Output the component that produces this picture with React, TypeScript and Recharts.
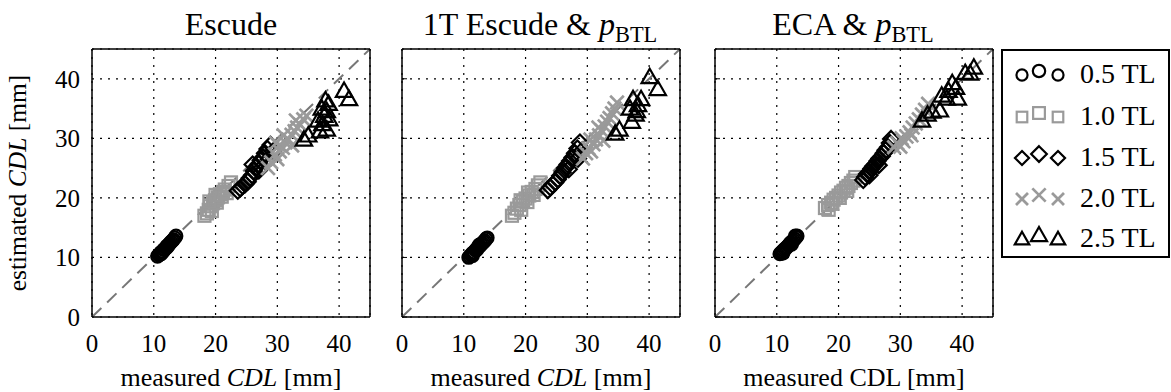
import React from 'react';
import { ScatterChart, Scatter, XAxis, YAxis, CartesianGrid, ReferenceLine } from 'recharts';

const FONT = "'Liberation Serif', 'Times New Roman', serif";
const GRAY = '#9a9a9a';

const axisTicks = [0, 10, 20, 30, 40];
const legendLabels = ['0.5 TL', '1.0 TL', '1.5 TL', '2.0 TL', '2.5 TL'];

// Escude
const escudeCircles = [
  { x: 10.6, y: 10.2 }, { x: 10.8, y: 10.4 }, { x: 11.0, y: 10.5 }, { x: 11.1, y: 10.8 }, { x: 11.3, y: 10.9 },
  { x: 11.5, y: 11.0 }, { x: 11.6, y: 11.3 }, { x: 11.8, y: 11.4 }, { x: 12.0, y: 11.6 }, { x: 12.1, y: 11.9 },
  { x: 12.3, y: 12.0 }, { x: 12.5, y: 12.2 }, { x: 12.6, y: 12.4 }, { x: 12.8, y: 12.6 }, { x: 13.0, y: 12.8 },
  { x: 13.2, y: 13.0 }, { x: 13.4, y: 13.3 }, { x: 13.6, y: 13.6 }, { x: 11.2, y: 10.6 }, { x: 12.2, y: 11.8 },
];
const escudeSquares = [
  { x: 18.2, y: 17.0 }, { x: 18.6, y: 17.4 }, { x: 18.9, y: 18.0 }, { x: 19.1, y: 18.6 }, { x: 19.4, y: 17.8 },
  { x: 19.6, y: 19.1 }, { x: 19.9, y: 19.6 }, { x: 20.2, y: 19.2 }, { x: 20.4, y: 20.1 }, { x: 20.7, y: 20.6 },
  { x: 21.0, y: 20.2 }, { x: 21.2, y: 21.0 }, { x: 21.5, y: 21.4 }, { x: 21.8, y: 20.8 }, { x: 22.1, y: 22.0 },
  { x: 22.5, y: 22.6 }, { x: 19.0, y: 19.4 }, { x: 20.0, y: 20.5 },
];
const escudeDiamonds = [
  { x: 23.6, y: 21.2 }, { x: 24.0, y: 21.6 }, { x: 24.4, y: 22.0 }, { x: 24.8, y: 22.3 }, { x: 25.2, y: 22.7 },
  { x: 25.5, y: 23.3 }, { x: 25.9, y: 23.8 }, { x: 26.2, y: 24.5 }, { x: 26.6, y: 25.2 }, { x: 27.0, y: 25.7 },
  { x: 27.3, y: 26.3 }, { x: 27.7, y: 26.8 }, { x: 28.0, y: 27.5 }, { x: 28.4, y: 28.2 }, { x: 28.9, y: 28.9 },
  { x: 29.3, y: 27.8 }, { x: 28.6, y: 26.5 }, { x: 27.0, y: 24.6 }, { x: 26.0, y: 25.6 },
];
const escudeCrosses = [
  { x: 28.5, y: 25.0 }, { x: 29.0, y: 26.0 }, { x: 29.6, y: 27.3 }, { x: 30.0, y: 26.5 }, { x: 30.4, y: 27.8 },
  { x: 30.9, y: 28.4 }, { x: 31.3, y: 29.3 }, { x: 31.8, y: 29.8 }, { x: 32.3, y: 30.6 }, { x: 32.8, y: 31.2 },
  { x: 33.2, y: 31.8 }, { x: 33.7, y: 32.3 }, { x: 34.2, y: 33.2 }, { x: 34.7, y: 33.8 }, { x: 29.8, y: 29.2 },
  { x: 31.0, y: 30.5 }, { x: 32.4, y: 28.8 }, { x: 33.0, y: 33.0 }, { x: 30.3, y: 28.8 },
];
const escudeTriangles = [
  { x: 34.3, y: 29.8 }, { x: 35.0, y: 30.5 }, { x: 36.9, y: 31.2 }, { x: 37.3, y: 32.4 }, { x: 36.6, y: 33.0 },
  { x: 37.6, y: 33.8 }, { x: 38.0, y: 34.6 }, { x: 38.4, y: 33.2 }, { x: 37.2, y: 35.0 }, { x: 38.3, y: 35.8 },
  { x: 37.8, y: 36.4 }, { x: 40.8, y: 38.0 }, { x: 41.6, y: 36.6 }, { x: 38.0, y: 31.5 },
];

// 1T Escude & pBTL
const oneTCircles = [
  { x: 10.8, y: 10.0 }, { x: 11.0, y: 10.2 }, { x: 11.2, y: 10.4 }, { x: 11.3, y: 10.6 }, { x: 11.5, y: 10.8 },
  { x: 11.7, y: 10.9 }, { x: 11.9, y: 11.2 }, { x: 12.1, y: 11.3 }, { x: 12.2, y: 11.6 }, { x: 12.4, y: 11.8 },
  { x: 12.6, y: 11.9 }, { x: 12.8, y: 12.2 }, { x: 13.0, y: 12.4 }, { x: 13.2, y: 12.6 }, { x: 13.4, y: 12.8 },
  { x: 13.6, y: 13.1 }, { x: 13.8, y: 13.3 }, { x: 11.4, y: 10.3 }, { x: 12.5, y: 12.1 },
];
const oneTSquares = [
  { x: 17.8, y: 17.0 }, { x: 18.2, y: 17.5 }, { x: 18.6, y: 18.2 }, { x: 19.0, y: 18.8 }, { x: 19.3, y: 18.0 },
  { x: 19.6, y: 19.4 }, { x: 20.0, y: 19.9 }, { x: 20.3, y: 19.3 }, { x: 20.6, y: 20.4 }, { x: 21.0, y: 21.0 },
  { x: 21.3, y: 20.5 }, { x: 21.6, y: 21.5 }, { x: 22.0, y: 22.1 }, { x: 22.4, y: 22.6 }, { x: 19.2, y: 19.6 },
  { x: 20.4, y: 20.9 },
];
const oneTDiamonds = [
  { x: 23.6, y: 21.3 }, { x: 24.0, y: 21.8 }, { x: 24.4, y: 22.2 }, { x: 24.8, y: 22.6 }, { x: 25.2, y: 23.1 },
  { x: 25.6, y: 23.7 }, { x: 26.0, y: 24.3 }, { x: 26.4, y: 25.0 }, { x: 26.8, y: 25.6 }, { x: 27.2, y: 26.2 },
  { x: 27.6, y: 26.8 }, { x: 28.0, y: 27.5 }, { x: 28.4, y: 28.3 }, { x: 28.8, y: 29.3 }, { x: 29.2, y: 28.0 },
  { x: 28.5, y: 26.6 }, { x: 27.0, y: 24.8 },
];
const oneTCrosses = [
  { x: 29.3, y: 26.6 }, { x: 29.8, y: 27.5 }, { x: 30.2, y: 28.3 }, { x: 30.6, y: 27.8 }, { x: 31.0, y: 29.0 },
  { x: 31.4, y: 29.8 }, { x: 31.9, y: 30.5 }, { x: 32.3, y: 31.3 }, { x: 32.8, y: 32.0 }, { x: 33.2, y: 32.8 },
  { x: 33.6, y: 33.4 }, { x: 34.0, y: 34.2 }, { x: 34.4, y: 35.0 }, { x: 34.8, y: 36.0 }, { x: 30.5, y: 29.8 },
  { x: 31.8, y: 31.8 }, { x: 32.6, y: 29.6 },
];
const oneTTriangles = [
  { x: 34.5, y: 30.8 }, { x: 35.2, y: 31.5 }, { x: 37.2, y: 32.8 }, { x: 36.9, y: 35.0 }, { x: 38.0, y: 34.6 },
  { x: 37.4, y: 36.6 }, { x: 38.7, y: 36.6 }, { x: 38.2, y: 35.6 }, { x: 37.8, y: 34.0 }, { x: 40.1, y: 40.3 },
  { x: 41.4, y: 38.3 },
];

// ECA & pBTL
const ecaCircles = [
  { x: 10.5, y: 10.6 }, { x: 10.7, y: 10.8 }, { x: 10.9, y: 11.0 }, { x: 11.1, y: 11.2 }, { x: 11.3, y: 11.4 },
  { x: 11.5, y: 11.6 }, { x: 11.7, y: 11.8 }, { x: 11.9, y: 12.0 }, { x: 12.1, y: 12.3 }, { x: 12.3, y: 12.5 },
  { x: 12.5, y: 12.7 }, { x: 12.7, y: 12.9 }, { x: 12.9, y: 13.1 }, { x: 13.1, y: 13.4 }, { x: 13.3, y: 13.6 },
  { x: 11.0, y: 10.7 }, { x: 12.4, y: 12.2 }, { x: 13.0, y: 13.6 },
];
const ecaSquares = [
  { x: 17.8, y: 18.3 }, { x: 18.3, y: 18.8 }, { x: 18.8, y: 19.2 }, { x: 19.2, y: 19.7 }, { x: 19.6, y: 20.0 },
  { x: 20.0, y: 20.4 }, { x: 20.4, y: 20.9 }, { x: 20.8, y: 21.2 }, { x: 21.2, y: 21.7 }, { x: 21.6, y: 22.0 },
  { x: 22.0, y: 22.5 }, { x: 22.4, y: 22.9 }, { x: 22.7, y: 23.5 }, { x: 19.0, y: 19.0 }, { x: 20.2, y: 20.0 },
  { x: 21.4, y: 21.2 }, { x: 18.4, y: 18.0 },
];
const ecaDiamonds = [
  { x: 24.0, y: 23.0 }, { x: 24.3, y: 23.5 }, { x: 24.6, y: 24.0 }, { x: 25.0, y: 24.4 }, { x: 25.3, y: 24.9 },
  { x: 25.6, y: 25.3 }, { x: 26.0, y: 25.7 }, { x: 26.3, y: 26.2 }, { x: 26.6, y: 26.6 }, { x: 27.0, y: 27.0 },
  { x: 27.3, y: 27.5 }, { x: 27.6, y: 28.0 }, { x: 28.0, y: 28.5 }, { x: 28.3, y: 29.2 }, { x: 28.5, y: 29.9 },
  { x: 25.0, y: 23.8 }, { x: 26.5, y: 25.5 },
];
const ecaCrosses = [
  { x: 29.0, y: 28.5 }, { x: 29.5, y: 29.2 }, { x: 30.0, y: 28.6 }, { x: 30.5, y: 29.5 }, { x: 31.0, y: 30.3 },
  { x: 31.5, y: 31.0 }, { x: 32.0, y: 31.8 }, { x: 32.5, y: 32.5 }, { x: 33.0, y: 33.2 }, { x: 33.5, y: 34.0 },
  { x: 34.0, y: 34.8 }, { x: 34.5, y: 35.8 }, { x: 30.2, y: 30.0 }, { x: 31.8, y: 30.5 },
];
const ecaTriangles = [
  { x: 33.5, y: 33.0 }, { x: 34.4, y: 34.0 }, { x: 35.2, y: 34.5 }, { x: 36.4, y: 34.7 }, { x: 36.7, y: 37.2 },
  { x: 37.5, y: 36.7 }, { x: 37.8, y: 38.0 }, { x: 38.4, y: 39.3 }, { x: 39.3, y: 36.7 }, { x: 39.0, y: 38.5 },
  { x: 41.3, y: 40.9 }, { x: 41.9, y: 41.9 }, { x: 40.5, y: 41.0 },
];

const kinds = ['circle', 'square', 'diamond', 'cross', 'triangle'];

const Marker = ({ kind, cx, cy, s = 1 }: any) => {
  if (cx == null || cy == null) return null;
  if (kind === 'circle')
    return <circle cx={cx} cy={cy} r={6.3 * s} fill="none" stroke="#000" strokeWidth={2.2} />;
  if (kind === 'square')
    return <rect x={cx - 6 * s} y={cy - 6 * s} width={12 * s} height={12 * s} fill="none" stroke={GRAY} strokeWidth={2.2} />;
  if (kind === 'diamond') {
    const d = 8 * s;
    return <polygon points={`${cx},${cy - d} ${cx + d},${cy} ${cx},${cy + d} ${cx - d},${cy}`} fill="none" stroke="#000" strokeWidth={2.2} />;
  }
  if (kind === 'cross') {
    const d = 6.8 * s;
    return (
      <g stroke={GRAY} strokeWidth={2.7}>
        <line x1={cx - d} y1={cy - d} x2={cx + d} y2={cy + d} />
        <line x1={cx - d} y1={cy + d} x2={cx + d} y2={cy - d} />
      </g>
    );
  }
  const h = 8.2 * s;
  return <polygon points={`${cx},${cy - h} ${cx + h},${cy + h * 0.75} ${cx - h},${cy + h * 0.75}`} fill="none" stroke="#000" strokeWidth={2.2} />;
};

const panels = [
  { left: 0, width: 380, mLeft: 0, title: 'Escude', sub: false, italicX: true,
    series: [escudeCircles, escudeSquares, escudeDiamonds, escudeCrosses, escudeTriangles] },
  { left: 390, width: 300, mLeft: 12, title: '1T Escude & ', sub: true, italicX: true,
    series: [oneTCircles, oneTSquares, oneTDiamonds, oneTCrosses, oneTTriangles] },
  { left: 703, width: 300, mLeft: 12, title: 'ECA & ', sub: true, italicX: false,
    series: [ecaCircles, ecaSquares, ecaDiamonds, ecaCrosses, ecaTriangles] },
];

const tickStyle = { fill: '#000', fontSize: 25, fontFamily: FONT };
const frame = { stroke: '#000', strokeWidth: 1.5 };
const blank = () => '';

const Panel = ({ p, first }: any) => {
  const plotW = 278;
  const right = p.width - p.mLeft - (first ? 92 : 0) - plotW;
  return (
    <div style={{ position: 'absolute', left: p.left, top: 0 }}>
      <ScatterChart width={p.width} height={392} margin={{ top: 49, right, bottom: 0, left: p.mLeft }}>
        <CartesianGrid stroke="#000" strokeDasharray="2 6" strokeWidth={1.2} />
        <XAxis
          xAxisId={0} dataKey="x" type="number" domain={[0, 45]} ticks={axisTicks} height={75}
          axisLine={false} tickLine={false} tick={tickStyle} tickMargin={11}
          label={{
            content: ({ viewBox }: any) => (
              <text x={viewBox.x + viewBox.width / 2} y={viewBox.y + 69} textAnchor="middle" fontFamily={FONT} fontSize={26} fill="#000">
                measured {p.italicX ? <tspan fontStyle="italic">CDL</tspan> : 'CDL'} [mm]
              </text>
            ),
          }}
        />
        <XAxis xAxisId="bm" type="number" domain={[0, 45]} ticks={axisTicks} orientation="bottom" mirror
          tickFormatter={blank} axisLine={frame} tickLine={{ stroke: '#000' }} tickSize={5} />
        <XAxis xAxisId="tm" type="number" domain={[0, 45]} ticks={axisTicks} orientation="top" mirror
          tickFormatter={blank} axisLine={frame} tickLine={{ stroke: '#000' }} tickSize={5} />
        {first ? (
          <YAxis
            yAxisId={0} dataKey="y" type="number" domain={[0, 45]} ticks={axisTicks} width={92}
            axisLine={false} tickLine={false} tick={tickStyle} tickMargin={6}
            label={{
              content: ({ viewBox }: any) => {
                const cx = 17;
                const cy = viewBox.y + viewBox.height / 2;
                return (
                  <text x={cx} y={cy} transform={`rotate(-90 ${cx} ${cy})`} textAnchor="middle" dominantBaseline="central" fontFamily={FONT} fontSize={25.5} fill="#000">
                    estimated <tspan fontStyle="italic">CDL</tspan> [mm]
                  </text>
                );
              },
            }}
          />
        ) : (
          <YAxis yAxisId={0} dataKey="y" type="number" domain={[0, 45]} ticks={axisTicks} mirror
            tickFormatter={blank} axisLine={frame} tickLine={{ stroke: '#000' }} tickSize={5} />
        )}
        {first && (
          <YAxis yAxisId="lm" type="number" domain={[0, 45]} ticks={axisTicks} orientation="left" mirror
            tickFormatter={blank} axisLine={frame} tickLine={{ stroke: '#000' }} tickSize={5} />
        )}
        <YAxis yAxisId="rm" type="number" domain={[0, 45]} ticks={axisTicks} orientation="right" mirror
          tickFormatter={blank} axisLine={frame} tickLine={{ stroke: '#000' }} tickSize={5} />
        {p.series.map((data: any, i: number) => (
          <Scatter
            key={kinds[i]} name={legendLabels[i]} data={data} isAnimationActive={false}
            shape={(props: any) => <Marker kind={kinds[i]} cx={props.cx} cy={props.cy} />}
          />
        ))}
        <ReferenceLine segment={[{ x: 0, y: 0 }, { x: 45, y: 45 }]} stroke="#777" strokeWidth={2} strokeDasharray="13 8" ifOverflow="visible" />
      </ScatterChart>
      <div style={{ position: 'absolute', left: 0, width: p.width, top: 5, textAlign: 'center', fontFamily: FONT, fontSize: 32, lineHeight: '38px', color: '#000', paddingLeft: first ? 92 - right : 0, boxSizing: 'border-box', whiteSpace: 'nowrap' }}>
        {p.title}
        {p.sub && (
          <span>
            <i>p</i>
            <sub style={{ fontSize: '0.7em', lineHeight: 0 }}>BTL</sub>
          </span>
        )}
      </div>
    </div>
  );
};

const legendRows = [73, 115, 156, 197, 237];

const LegendBox = () => (
  <div style={{ position: 'absolute', left: 1001, top: 49, width: 169, height: 209, border: '2px solid #000', boxSizing: 'border-box', background: '#fff' }}>
    <svg width={169} height={209} style={{ position: 'absolute', left: -2, top: -2 }}>
      {legendLabels.map((lab, i) => {
        const y = legendRows[i] - 49;
        return (
          <g key={lab}>
            <Marker kind={kinds[i]} cx={21} cy={y + 2} s={0.88} />
            <Marker kind={kinds[i]} cx={38} cy={y - 2} s={0.98} />
            <Marker kind={kinds[i]} cx={57} cy={y + 2} s={0.88} />
            <text x={79} y={y} dominantBaseline="central" fontFamily={FONT} fontSize={28} fill="#000">{lab}</text>
          </g>
        );
      })}
    </svg>
  </div>
);

export default function App() {
  return (
    <div style={{ position: 'absolute', left: 0, top: 0, width: 1171, height: 392, background: '#fff', overflow: 'hidden' }}>
      {panels.map((p, i) => (
        <Panel key={p.title} p={p} first={i === 0} />
      ))}
      <LegendBox />
    </div>
  );
}
